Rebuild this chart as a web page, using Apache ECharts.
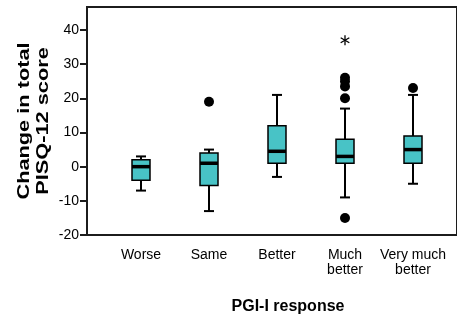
<!DOCTYPE html>
<html>
<head>
<meta charset="utf-8">
<script src="https://cdn.jsdelivr.net/npm/echarts@6/dist/echarts.min.js"></script>
<style>html,body{margin:0;padding:0;background:#fff}#c{width:457px;height:322px}</style>
</head>
<body>
<div id="c"></div>
<script>
const categories = ['Worse', 'Same', 'Better', 'Much\nbetter', 'Very much\nbetter'];
const boxMin = [-7, -13, -3, -9, -5];
const boxQ1 = [-4, -5.5, 1, 1, 1];
const boxMedian = [0, 1, 4.5, 3, 5];
const boxQ3 = [2, 4, 12, 8, 9];
const boxMax = [3, 5, 21, 17, 21];
const outlierCat = ['Same', 'Much\nbetter', 'Much\nbetter', 'Much\nbetter', 'Much\nbetter', 'Much\nbetter', 'Very much\nbetter'];
const outlierVal = [19, 26, 25, 23.5, 20, -15, 23];
const extremeCat = ['Much\nbetter'];
const extremeVal = [37];
const yTicks = [-20, -10, 0, 10, 20, 30, 40];
const yTitle = 'Change in total\nPISQ-12 score';
const xTitle = 'PGI-I response';

const FONT = 'Liberation Sans, Arial, sans-serif';
const AX = '#1c1c1c';
const FILL = '#48C3C6';

const boxData = categories.map((c, i) => [i, boxMin[i], boxQ1[i], boxMedian[i], boxQ3[i], boxMax[i]]);
const outData = outlierCat.map((c, i) => [categories.indexOf(c), outlierVal[i]]);
const extData = extremeCat.map((c, i) => [categories.indexOf(c), extremeVal[i]]);

function renderBox(params, api) {
  const i = api.value(0);
  const lo = api.coord([i, api.value(1)]);
  const q1 = api.coord([i, api.value(2)]);
  const md = api.coord([i, api.value(3)]);
  const q3 = api.coord([i, api.value(4)]);
  const hi = api.coord([i, api.value(5)]);
  const x = Math.round(lo[0]);
  const hw = 9, cw = 5;
  const ls = {stroke: '#000', lineWidth: 2};
  return {type: 'group', children: [
    {type: 'line', shape: {x1: x, y1: hi[1], x2: x, y2: q3[1]}, style: ls},
    {type: 'line', shape: {x1: x, y1: lo[1], x2: x, y2: q1[1]}, style: ls},
    {type: 'line', shape: {x1: x - cw, y1: hi[1], x2: x + cw, y2: hi[1]}, style: ls},
    {type: 'line', shape: {x1: x - cw, y1: lo[1], x2: x + cw, y2: lo[1]}, style: ls},
    {type: 'rect', shape: {x: x - hw, y: q3[1], width: 2 * hw, height: q1[1] - q3[1]},
      style: {fill: FILL, stroke: '#000', lineWidth: 1.5}},
    {type: 'line', shape: {x1: x - hw, y1: md[1], x2: x + hw, y2: md[1]}, style: {stroke: '#000', lineWidth: 3.5}}
  ]};
}

function renderStar(params, api) {
  const p = api.coord([api.value(0), api.value(1)]);
  const r = 5;
  const st = {stroke: '#000', lineWidth: 1.3};
  const kids = [];
  for (let k = 0; k < 3; k++) {
    const a = Math.PI / 2 + k * Math.PI / 3;
    kids.push({type: 'line', shape: {x1: p[0] + r * Math.cos(a), y1: p[1] - r * Math.sin(a), x2: p[0] - r * Math.cos(a), y2: p[1] + r * Math.sin(a)}, style: st});
  }
  return {type: 'group', children: kids};
}

const chart = echarts.init(document.getElementById('c'), null, {renderer: 'canvas'});
chart.setOption({
  animation: false,
  backgroundColor: '#fff',
  grid: [
    {left: 87, right: -10, top: 7, bottom: 87, show: true, borderColor: AX, borderWidth: 2, backgroundColor: 'transparent'},
    {left: 107, width: 340, top: 30, bottom: 87}
  ],
  xAxis: [
    {gridIndex: 0, type: 'value', show: false},
    {gridIndex: 1, type: 'category', data: categories, boundaryGap: true,
      axisLine: {show: false},
      axisTick: {show: true, alignWithLabel: true, length: 9, lineStyle: {color: AX, width: 2}},
      axisLabel: {fontFamily: FONT, fontSize: 14, color: '#000', margin: 13, lineHeight: 15, interval: 0}}
  ],
  yAxis: [
    {gridIndex: 0, type: 'value', show: false},
    {gridIndex: 1, type: 'value', min: yTicks[0], max: yTicks[yTicks.length - 1], interval: 10, offset: 20,
      axisLine: {show: false}, splitLine: {show: false},
      axisTick: {show: true, length: 7, lineStyle: {color: AX, width: 2}},
      axisLabel: {fontFamily: FONT, fontSize: 14, color: '#000', margin: 8}}
  ],
  graphic: [
    {type: 'text', x: 34, y: 121, rotation: Math.PI / 2, scaleX: 1.28,
      style: {text: yTitle, font: 'bold 17px ' + FONT, fill: '#000', textAlign: 'center', textVerticalAlign: 'middle', lineHeight: 19}},
    {type: 'text', x: 288, y: 307,
      style: {text: xTitle, font: 'bold 16px ' + FONT, fill: '#000', textAlign: 'center', textVerticalAlign: 'middle'}}
  ],
  series: [
    {type: 'custom', xAxisIndex: 1, yAxisIndex: 1, data: boxData, renderItem: renderBox, encode: {x: 0, y: [1, 2, 3, 4, 5]}},
    {type: 'scatter', xAxisIndex: 1, yAxisIndex: 1, data: outData, symbol: 'circle', symbolSize: 10, itemStyle: {color: '#000', opacity: 1}},
    {type: 'custom', xAxisIndex: 1, yAxisIndex: 1, data: extData, renderItem: renderStar, encode: {x: 0, y: 1}}
  ]
});
</script>
</body>
</html>
